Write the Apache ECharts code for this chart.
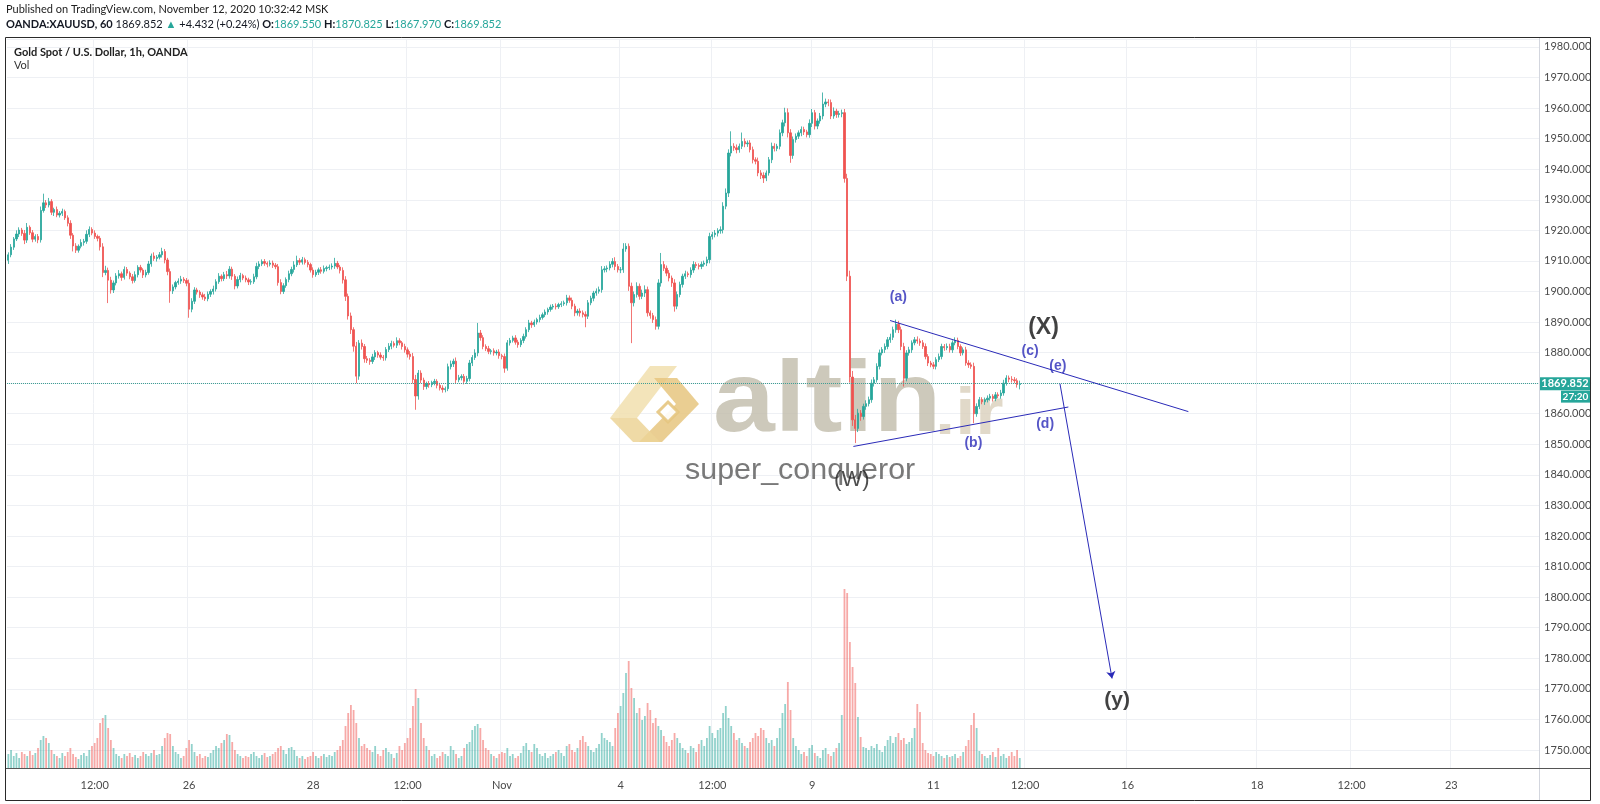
<!DOCTYPE html>
<html><head><meta charset="utf-8">
<script src="https://cdn.jsdelivr.net/npm/echarts@6/dist/echarts.min.js"></script>
<style>html,body{margin:0;padding:0;background:#fff}#chart{width:1600px;height:804px}</style>
</head><body><div id="chart"></div>
<script>
// ---- data (1h candles, XAUUSD) ----
const firstOpen = 1910.2;
const closes = [
1912.0,1914.5,1917.2,1918.8,1920.1,1919.0,1916.8,1921.0,1919.2,1917.1,
1918.0,1916.9,1926.5,1929.0,1928.3,1929.4,1925.9,1926.8,1925.0,1925.6,
1926.2,1924.1,1922.3,1918.4,1914.9,1913.5,1914.8,1916.0,1916.4,1918.7,
1920.3,1919.1,1918.0,1917.4,1914.6,1906.2,1906.9,1903.7,1900.5,1902.8,
1905.1,1905.8,1904.6,1907.2,1906.0,1904.8,1903.6,1905.5,1907.9,1907.0,
1905.4,1906.2,1909.0,1911.6,1910.8,1911.2,1912.0,1913.1,1910.3,1906.5,
1900.2,1901.5,1902.9,1903.4,1904.0,1903.6,1902.7,1894.2,1896.8,1900.5,
1899.8,1898.9,1898.2,1897.6,1899.1,1900.0,1900.8,1903.2,1905.0,1904.2,
1905.5,1905.1,1907.3,1905.0,1901.8,1903.9,1905.2,1904.4,1903.8,1903.1,
1903.2,1904.8,1908.2,1909.0,1909.8,1909.2,1908.9,1909.3,1908.6,1908.1,
1902.9,1900.0,1901.9,1903.9,1905.8,1907.2,1908.7,1910.1,1909.6,1910.4,
1909.5,1908.8,1907.0,1905.5,1906.3,1907.1,1906.6,1907.5,1907.8,1908.0,
1908.3,1909.2,1908.0,1906.9,1903.8,1898.4,1892.0,1887.5,1882.1,1872.3,
1883.1,1882.0,1878.0,1877.5,1877.1,1878.6,1880.0,1879.2,1878.5,1878.3,
1881.0,1882.1,1883.0,1882.4,1883.9,1883.2,1882.0,1880.9,1879.5,1878.7,
1871.2,1865.8,1873.3,1871.0,1868.9,1869.8,1869.5,1870.2,1870.6,1869.3,
1868.4,1867.9,1868.2,1875.4,1876.3,1877.2,1871.1,1871.8,1872.2,1870.6,
1871.5,1876.6,1878.4,1879.9,1886.4,1884.9,1882.0,1881.3,1880.4,1880.6,
1879.9,1880.2,1879.0,1878.7,1874.9,1883.2,1884.0,1884.8,1883.4,1882.6,
1884.0,1885.3,1887.5,1889.7,1889.1,1890.0,1890.8,1891.5,1892.4,1893.3,
1894.1,1894.9,1895.2,1895.0,1895.7,1896.0,1896.3,1897.9,1897.1,1895.2,
1893.0,1893.6,1893.0,1892.5,1891.9,1896.3,1897.8,1899.5,1900.1,1900.6,
1907.1,1907.4,1907.7,1908.9,1909.8,1908.2,1907.1,1907.1,1913.9,1914.8,
1901.7,1896.3,1899.0,1901.7,1898.4,1899.5,1900.6,1893.0,1892.1,1890.8,
1888.6,1902.8,1908.8,1907.6,1906.0,1904.4,1902.8,1895.2,1899.0,1902.3,
1905.0,1905.8,1905.5,1907.0,1908.8,1908.5,1908.2,1908.9,1909.3,1910.4,
1918.0,1918.6,1919.1,1919.9,1920.2,1927.9,1932.2,1945.3,1947.5,1947.0,
1946.4,1947.5,1949.1,1948.3,1948.6,1946.4,1943.1,1942.6,1938.8,1938.0,
1937.1,1938.8,1943.1,1947.5,1946.8,1947.5,1951.9,1955.2,1958.5,1951.9,
1944.5,1949.7,1950.8,1951.9,1953.0,1952.2,1951.3,1955.0,1958.5,1954.1,
1955.8,1957.4,1961.3,1962.0,1961.8,1957.4,1959.0,1957.9,1958.2,1958.5,
1937.0,1905.0,1872.0,1858.0,1855.2,1860.2,1859.1,1862.4,1863.3,1864.6,
1870.0,1871.1,1875.5,1879.9,1881.0,1882.0,1884.2,1885.0,1887.5,1889.3,
1887.5,1882.0,1871.6,1879.9,1880.9,1883.2,1884.2,1883.8,1883.2,1882.0,
1878.7,1876.6,1876.0,1875.5,1877.7,1878.7,1882.0,1881.6,1882.0,1880.9,
1883.2,1884.0,1882.0,1879.9,1880.9,1876.6,1876.0,1875.5,1860.0,1862.4,
1864.6,1863.9,1864.6,1865.1,1865.7,1865.0,1866.2,1865.9,1866.8,1870.0,
1871.7,1871.3,1871.1,1870.8,1869.55,1869.852];
const wickUp = [
0.8,1.0,0.6,1.2,0.9,0.7,1.1,1.4,0.6,0.9, 0.7,0.8,1.3,3.0,0.9,1.2,0.8,0.6,1.0,0.7,
0.9,0.6,0.8,1.0,0.7,0.9,0.6,1.1,0.8,1.3, 1.0,0.7,0.9,0.6,0.8,1.2,1.5,0.9,1.1,0.8,
0.9,1.2,0.7,1.0,0.8,0.6,0.9,1.1,0.7,0.8, 0.6,0.9,1.0,0.8,1.2,0.7,0.9,1.2,0.8,0.7,
1.0,0.8,0.6,0.9,1.1,0.7,0.8,1.2,1.0,0.9, 0.7,0.6,0.8,1.0,0.9,0.7,1.1,0.8,1.0,0.6,
0.9,1.2,1.0,0.8,0.7,1.0,0.9,0.6,0.8,0.7, 0.8,1.0,1.2,0.9,0.7,0.8,0.6,0.9,0.8,0.7,
0.9,1.1,0.8,0.7,1.0,0.9,1.2,1.6,0.8,0.9, 0.7,0.8,0.6,0.9,0.8,0.7,0.9,1.0,0.6,0.8,
0.9,1.8,0.8,0.7,1.0,1.2,0.9,1.1,0.8,1.4, 1.0,1.2,0.8,0.9,0.7,1.0,0.8,0.6,0.9,0.7,
0.8,1.0,0.9,0.7,1.1,0.8,0.6,0.9,0.8,1.0, 1.2,1.5,1.0,0.9,0.8,0.7,0.9,0.6,0.8,0.7,
0.8,0.9,0.7,1.0,1.1,0.8,1.2,0.9,0.7,0.8, 0.9,1.0,0.8,1.2,3.3,1.0,0.8,0.7,0.9,0.6,
0.8,0.7,0.9,0.6,1.0,0.9,0.8,0.7,0.9,0.8, 0.7,0.9,0.8,1.0,0.7,0.8,0.6,0.9,0.7,0.8,
0.6,0.8,0.7,0.9,0.6,0.8,0.7,1.0,0.8,0.9, 0.8,0.7,0.9,0.8,1.0,0.9,0.8,0.7,0.9,1.0,
1.2,0.9,0.8,1.0,1.1,1.4,0.8,0.9,1.9,1.0, 0.9,1.2,1.0,1.3,0.9,1.1,1.4,1.0,0.8,0.9,
1.0,1.2,3.8,1.1,0.9,1.0,0.8,1.2,1.0,0.9, 0.8,1.0,0.7,0.9,1.1,0.8,0.7,0.9,0.8,1.0,
1.2,0.9,1.0,0.8,1.1,1.3,1.5,1.2,4.9,1.0, 1.1,0.9,2.9,1.0,0.8,0.9,1.0,0.8,1.2,0.9,
1.0,0.8,0.9,1.2,1.0,0.8,1.1,1.0,1.6,1.4, 1.2,1.0,0.9,0.8,1.0,0.9,0.7,1.3,1.2,0.9,
0.8,1.0,3.8,1.1,0.9,1.0,1.2,0.8,0.9,1.0, 1.2,1.5,1.8,2.0,1.6,1.4,1.0,0.9,1.1,1.0,
1.2,0.9,1.0,1.1,0.8,1.0,0.9,1.2,1.0,1.5, 1.1,1.0,1.2,0.9,1.0,0.8,0.9,1.1,0.8,0.9,
1.0,0.8,0.7,0.9,0.8,1.0,0.9,0.8,1.0,0.9, 0.8,1.0,0.9,0.7,0.8,1.0,0.9,0.8,1.2,1.0,
0.9,0.8,0.7,0.9,0.8,0.7,0.9,0.8,1.0,1.1, 0.9,0.8,1.0,0.9,0.8,0.973];
const wickDn = [
1.2,0.8,0.9,0.7,1.0,0.8,1.3,0.9,0.7,1.0, 0.8,1.1,0.9,0.7,1.0,0.8,0.9,1.2,0.7,0.8,
0.9,0.7,1.0,1.2,1.8,0.9,0.8,0.7,1.0,0.8, 0.9,0.7,0.8,1.0,1.2,1.5,0.9,7.5,1.2,1.0,
0.8,0.9,1.1,0.7,0.9,0.8,1.0,0.7,0.9,0.8, 1.0,0.8,0.7,0.9,0.8,1.0,0.7,0.9,1.1,1.2,
3.9,1.0,0.8,0.7,0.9,0.8,1.0,2.8,1.0,0.9, 0.8,1.0,0.9,0.7,0.8,0.9,1.0,0.8,0.7,0.9,
0.8,1.0,0.9,1.2,1.1,0.8,0.9,0.7,0.8,1.0, 0.9,0.7,0.8,0.9,0.7,0.8,1.0,0.7,0.9,0.8,
1.0,0.9,0.8,0.7,0.9,0.8,1.0,0.7,0.9,0.8, 0.7,0.9,0.8,1.0,0.7,0.9,0.8,0.7,0.9,0.8,
0.8,0.9,0.7,1.0,1.2,1.5,1.2,1.4,1.8,2.3, 1.2,1.0,1.3,0.9,1.1,0.8,1.0,0.9,0.8,1.0,
0.9,0.8,1.0,0.7,0.9,0.8,1.0,0.9,1.1,1.0, 1.3,4.5,1.2,1.0,1.1,0.9,1.0,0.8,0.9,1.0,
0.8,1.0,0.9,0.8,0.9,1.0,1.1,0.8,0.9,1.0, 0.8,0.9,1.0,0.8,1.1,1.0,0.9,0.8,0.9,1.0,
0.9,0.8,1.0,0.9,1.5,0.8,0.9,0.7,0.8,1.0, 0.8,0.9,0.7,0.8,1.0,0.7,0.8,0.9,0.7,0.8,
0.9,0.7,0.8,0.9,0.7,0.8,0.7,0.9,0.8,1.0, 1.1,0.9,1.2,1.0,3.6,0.9,0.8,1.0,0.9,0.8,
1.0,0.9,1.1,0.8,1.0,1.2,0.9,1.1,1.0,0.9, 1.5,13.2,1.2,1.0,1.1,0.9,1.3,1.2,1.0,1.1,
1.1,1.0,1.2,0.9,1.0,1.1,1.3,1.8,1.0,0.9, 1.0,0.9,0.8,1.0,0.9,0.8,1.0,0.9,0.8,1.0,
1.2,1.0,0.9,1.1,1.0,1.2,1.0,1.3,1.1,1.0, 1.2,1.0,0.9,1.1,1.0,0.9,1.2,1.0,1.1,1.2,
1.6,1.0,0.9,1.1,1.0,0.9,1.0,1.1,1.2,1.5, 2.4,1.1,1.0,0.9,1.1,1.0,0.9,1.0,1.2,1.1,
1.0,0.9,1.1,1.0,1.2,1.0,0.9,1.1,1.0,1.2, 1.4,1.6,1.8,2.0,4.8,1.2,1.4,1.0,1.1,0.9,
1.0,1.1,0.9,1.0,0.8,1.1,0.9,1.0,0.9,1.0, 1.1,1.2,2.7,1.0,0.9,1.0,0.8,0.9,1.0,0.8,
0.9,1.0,0.8,0.9,1.0,0.8,0.9,1.0,0.8,0.9, 1.0,0.8,0.9,1.0,0.8,0.9,1.0,0.8,3.1,1.0,
0.9,0.8,1.0,0.9,0.8,1.0,0.9,0.8,1.0,0.9, 0.8,1.0,0.9,0.8,1.0,1.58];
const volumes = [
14,18,12,15,10,16,14,12,17,13, 15,20,28,32,30,25,18,14,12,10,
15,12,16,20,14,11,9,13,15,12, 18,22,25,30,45,50,53,40,28,20,
14,12,10,14,12,15,11,13,10,12, 16,14,12,15,18,13,14,22,30,35,
34,22,16,14,10,12,20,28,24,16, 12,14,10,12,11,15,18,22,20,25,
28,34,33,26,18,14,12,10,12,11, 14,16,12,10,13,15,11,12,14,16,
20,22,18,14,20,21,18,12,10,12, 9,11,12,16,12,10,12,14,11,13,
12,16,18,22,28,42,55,63,58,45, 30,22,24,20,18,16,22,14,12,18,
20,16,14,10,15,22,18,25,30,40, 62,79,70,45,30,22,18,12,14,10,
12,16,14,12,22,18,14,10,12,20, 24,26,38,42,44,40,28,20,18,14,
12,10,14,16,15,20,12,14,10,12, 15,22,25,18,16,24,20,14,12,15,
10,12,14,16,18,15,12,22,24,18, 16,20,28,32,26,22,18,16,20,24,
35,30,28,26,22,40,55,62,75,95, 107,80,70,55,60,48,52,65,58,45,
50,42,38,32,26,22,28,35,30,25, 20,18,15,22,20,16,24,28,22,30,
42,35,30,38,40,55,62,50,42,35, 28,30,25,22,20,26,30,35,32,40,
38,30,25,28,22,30,40,55,64,86, 58,30,22,18,14,16,12,20,23,15,
12,10,18,20,14,12,16,20,25,53, 179,175,126,101,85,51,31,21,20,18,
22,20,24,18,16,22,28,32,25,31, 35,28,30,24,26,30,40,64,56,25,
18,15,14,12,16,14,12,10,13,11, 12,14,10,12,16,22,28,43,55,40,
17,14,12,10,13,16,11,20,12,14, 10,12,16,12,18,10];
const totalSlots = 568;            // candle slots incl. empty future space
const xTickIdx  = [32, 67, 113, 148, 183, 227, 261, 298, 343, 377, 415, 463, 498, 535];
const xTickText = ['12:00','26','28','12:00','Nov','4','12:00','9','11','12:00','16','18','12:00','23'];
const lastPrice = 1869.852;
const trendUpper = [[326.9, 1890.5], [437.5, 1860.7]];
const trendLower = [[313.3, 1849.3], [393.0, 1862.2]];
const arrowPath  = [[389.9, 1869.8], [409.2, 1773.4]];
const waveText  = ['(a)', '(b)', '(c)', '(d)', '(e)', '(X)', '(W)', '(y)'];
const waveX     = [330.0, 357.8, 378.8, 384.4, 389.1, 383.8, 312.7, 411.1];
const waveY     = [1898.2, 1850.4, 1880.4, 1856.7, 1875.7, 1888.0, 1838.4, 1766.4];

// ---- build ----
const UP = '#26a69a', DN = '#ef5350', BLUE = '#2a2ab8';
const opens = closes.map((c, i) => i === 0 ? firstOpen : closes[i - 1]);
const candles = closes.map((c, i) => {
  const o = opens[i];
  return [o, c, Math.min(o, c) - wickDn[i], Math.max(o, c) + wickUp[i]];
});
const volData = volumes.map((v, i) => ({
  value: v,
  itemStyle: { color: closes[i] >= opens[i] ? 'rgba(38,166,154,0.5)' : 'rgba(239,83,80,0.5)' }
}));
const categories = Array.from({ length: totalSlots }, (_, i) => String(i));
const tickMap = {};
xTickIdx.forEach((k, j) => { tickMap[k] = xTickText[j]; });
const isTick = (i) => tickMap[i] !== undefined;

const waveStyle = {
  '(a)': { c: BLUE, s: 14, w: 'bold' }, '(b)': { c: BLUE, s: 14, w: 'bold' },
  '(c)': { c: BLUE, s: 14, w: 'bold' }, '(d)': { c: BLUE, s: 14, w: 'bold' },
  '(e)': { c: BLUE, s: 14, w: 'bold' }, '(X)': { c: '#111', s: 23, w: 'bold' },
  '(W)': { c: '#222', s: 22, w: 'normal' }, '(y)': { c: '#111', s: 21, w: 'bold' }
};

const FONT = 'Lato, "Liberation Sans", sans-serif';
const WM = '"Liberation Sans", Arial, sans-serif';
const G = { left: 7, right: 61, top: 39, bottom: 36 };

const chart = echarts.init(document.getElementById('chart'), null, { renderer: 'canvas' });
const option = {
  animation: false,
  backgroundColor: '#ffffff',
  textStyle: { fontFamily: FONT },
  grid: [Object.assign({}, G), Object.assign({}, G)],
  xAxis: [
    { type: 'category', gridIndex: 0, data: categories, boundaryGap: true,
      axisLine: { show: false }, axisTick: { show: false },
      axisLabel: { interval: (i) => isTick(i), formatter: (v, i) => tickMap[i] || '',
                   color: '#4a4a4a', fontSize: 11, margin: 12, fontFamily: FONT },
      splitLine: { show: true, interval: (i) => isTick(i), lineStyle: { color: '#eef0f4', width: 1 } } },
    { type: 'value', gridIndex: 0, min: -0.5, max: totalSlots - 0.5, show: false, position: 'top' },
    { type: 'category', gridIndex: 1, data: categories, boundaryGap: true, show: false }
  ],
  yAxis: [
    { type: 'value', gridIndex: 0, position: 'right', min: 1744.1, max: 1982.6, splitNumber: 24,
      axisLine: { show: false }, axisTick: { show: false },
      axisLabel: { formatter: (v) => v.toFixed(3), color: '#4a4a4a', fontSize: 11, margin: 5,
                   showMinLabel: false, showMaxLabel: false, fontFamily: FONT },
      splitLine: { show: true, lineStyle: { color: '#eef0f4', width: 1 } } },
    { type: 'value', gridIndex: 1, min: 0, max: 729, show: false, splitLine: { show: false } }
  ],
  series: [
    { type: 'bar', xAxisIndex: 2, yAxisIndex: 1, data: volData, barWidth: 1.8, z: 1, silent: true },
    { type: 'candlestick', xAxisIndex: 0, yAxisIndex: 0, data: candles, barWidth: 1.8, z: 3,
      itemStyle: { color: UP, color0: DN, borderColor: UP, borderColor0: DN, borderWidth: 0.8 },
      markLine: { silent: true, symbol: 'none', animation: false,
        lineStyle: { type: 'dotted', color: '#3f9f95', width: 1 },
        label: { show: false }, data: [{ yAxis: lastPrice }] } },
    { type: 'lines', coordinateSystem: 'cartesian2d', xAxisIndex: 1, yAxisIndex: 0, z: 5,
      lineStyle: { color: BLUE, width: 1, opacity: 1 }, symbol: ['none', 'none'],
      data: [{ coords: trendUpper }, { coords: trendLower }] },
    { type: 'lines', coordinateSystem: 'cartesian2d', xAxisIndex: 1, yAxisIndex: 0, z: 5,
      lineStyle: { color: BLUE, width: 1, opacity: 1 }, symbol: ['none', 'arrow'], symbolSize: [1, 7],
      data: [{ coords: arrowPath }] },
    { type: 'scatter', xAxisIndex: 1, yAxisIndex: 0, symbolSize: 0, z: 6, silent: true,
      data: waveText.map((t, i) => ({ value: [waveX[i], waveY[i]],
        label: { show: true, position: 'inside', formatter: t, color: waveStyle[t].c,
                 fontSize: waveStyle[t].s, fontWeight: waveStyle[t].w, fontFamily: WM } })) }
  ]
};
chart.setOption(option);

// price tag boxes on price scale, positioned with the axis scale
const py = chart.convertToPixel({ yAxisIndex: 0 }, lastPrice);
chart.setOption({
  graphic: [
    // watermark logo
    { type: 'group', z: 1, silent: true, children: [
      { type: 'polygon', shape: { points: [[610,418],[650,366],[677,366],[637,418]] }, style: { fill: '#f1dfae', opacity: 0.85 } },
      { type: 'polygon', shape: { points: [[654,378],[677,378],[699,404],[676,404]] }, style: { fill: '#e6c57f', opacity: 0.85 } },
      { type: 'polygon', shape: { points: [[676,404],[699,404],[662,442],[639,442]] }, style: { fill: '#e6c57f', opacity: 0.85 } },
      { type: 'polygon', shape: { points: [[610,418],[637,418],[660,442],[633,442]] }, style: { fill: '#ecd396', opacity: 0.85 } },
      { type: 'polygon', shape: { points: [[668,402],[678,412],[668,422],[658,412]] }, style: { fill: '#fff', stroke: '#e6c57f', lineWidth: 3, opacity: 0.9 } },
      { type: 'text', x: 713, y: 353, scaleX: 1.11, style: { text: 'altin', fill: '#c1bbaa', opacity: 0.8, font: 'bold 100px ' + WM, textVerticalAlign: 'top' } },
      { type: 'text', x: 935, y: 383, scaleX: 1.1, style: { text: '.ir', fill: '#d9d0bb', opacity: 0.8, font: 'bold 66px ' + WM, textVerticalAlign: 'top' } },
      { type: 'text', x: 685, y: 456, scaleX: 1.05, style: { text: 'super_conqueror', fill: '#6a6a6a', opacity: 0.9, font: '29px ' + WM, textVerticalAlign: 'top' } }
    ] },
    // frame and separators
    { type: 'rect', z: 10, silent: true, shape: { x: 5.5, y: 37.5, width: 1585, height: 763 }, style: { fill: 'none', stroke: '#2a2a2a', lineWidth: 1 } },
    { type: 'line', z: 10, silent: true, shape: { x1: 1539.5, y1: 38, x2: 1539.5, y2: 800 }, style: { stroke: '#d3d6de', lineWidth: 1 } },
    { type: 'line', z: 10, silent: true, shape: { x1: 6, y1: 768.5, x2: 1590, y2: 768.5 }, style: { stroke: '#555', lineWidth: 1 } },
    // header texts
    { type: 'text', x: 6, y: 9, style: { text: 'Published on TradingView.com, November 12, 2020 10:32:42 MSK', fill: '#222', font: '11px ' + FONT, textVerticalAlign: 'middle' } },
    { type: 'text', x: 6, y: 24, style: { textVerticalAlign: 'middle', font: '11px ' + FONT,
      text: '{b|OANDA:XAUUSD, 60} {n|1869.852} {t|▲} {n|+4.432 (+0.24%)} {b|O:}{t|1869.550} {b|H:}{t|1870.825} {b|L:}{t|1867.970} {b|C:}{t|1869.852}',
      rich: { b: { fill: '#131722', fontWeight: 'bold', fontSize: 11, fontFamily: FONT },
              n: { fill: '#131722', fontSize: 11, fontFamily: FONT },
              t: { fill: UP, fontSize: 11, fontFamily: FONT } } } },
    { type: 'text', x: 14, y: 52, z: 10, style: { text: 'Gold Spot / U.S. Dollar, 1h, OANDA', fill: '#222', font: 'bold 11px ' + FONT, textVerticalAlign: 'middle' } },
    { type: 'text', x: 14, y: 65, z: 10, style: { text: 'Vol', fill: '#333', font: '11px ' + FONT, textVerticalAlign: 'middle' } },
    // last price tags
    { type: 'rect', z: 11, shape: { x: 1540, y: py - 6.5, width: 50, height: 13 }, style: { fill: UP } },
    { type: 'text', z: 12, x: 1565, y: py, style: { text: '1869.852', fill: '#fff', font: 'bold 11px ' + FONT, textAlign: 'center', textVerticalAlign: 'middle' } },
    { type: 'rect', z: 11, shape: { x: 1561, y: py + 7, width: 29, height: 12 }, style: { fill: UP } },
    { type: 'text', z: 12, x: 1575.5, y: py + 13, style: { text: '27:20', fill: '#fff', font: 'bold 10px ' + FONT, textAlign: 'center', textVerticalAlign: 'middle' } }
  ]
});
</script>
</body></html>
